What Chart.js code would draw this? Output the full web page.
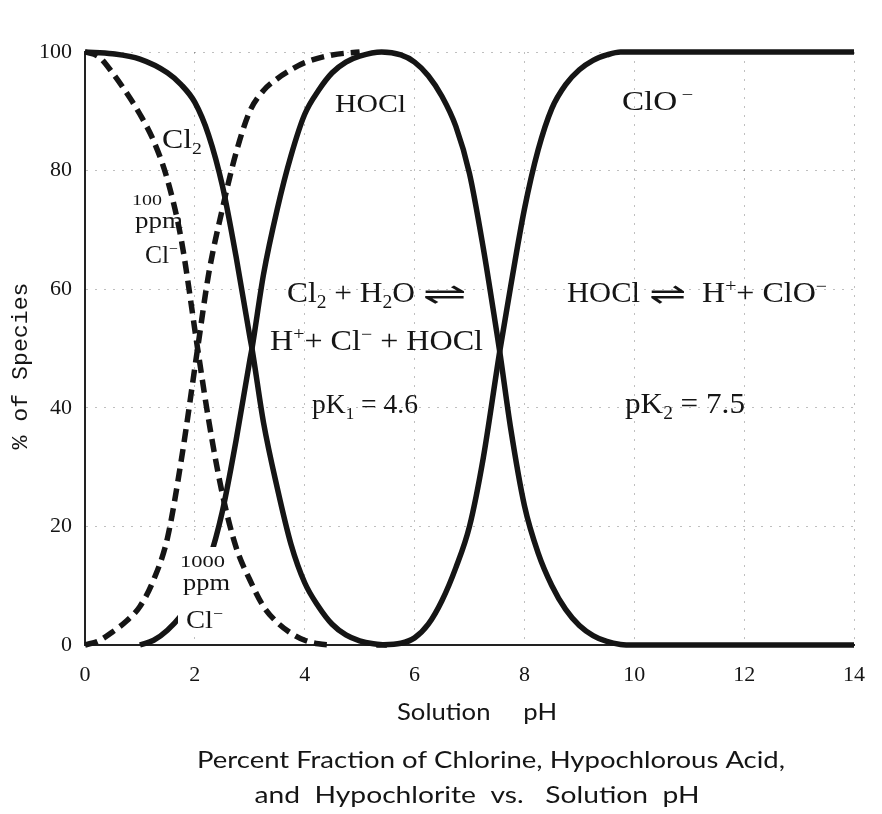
<!DOCTYPE html>
<html>
<head>
<meta charset="utf-8">
<script src="https://cdn.jsdelivr.net/npm/chart.js@4.4.0/dist/chart.umd.min.js"></script>
<style>
  body { margin: 0; background: #fff; }
  #wrap { width: 882px; height: 814px; }
</style>
</head>
<body>
<div id="wrap"><canvas id="speciesChart" width="882" height="814"></canvas></div>
<script>
// axis ticks
const xTicks = [0, 2, 4, 6, 8, 10, 12, 14];
const yTicks = [0, 20, 40, 60, 80, 100];

// solid curves: 1000 ppm Cl-
const cl2PH  = [0, 0.5, 1, 1.5, 1.75, 2, 2.25, 2.5, 2.75, 3, 3.04, 3.25, 3.5, 3.75, 4, 4.25, 4.5, 4.75, 5, 5.25, 5.5];
const cl2Pct = [100, 99.7, 98.8, 96.5, 94.5, 91.5, 86, 77.5, 65.5, 52, 50, 37.5, 26.5, 17, 10.5, 6.5, 3.5, 1.7, 0.7, 0.2, 0];

const hoclPH  = [1, 1.25, 1.5, 1.75, 2, 2.25, 2.5, 2.75, 3, 3.04, 3.25, 3.5, 3.75, 4, 4.25, 4.5, 4.75, 5, 5.4, 5.75, 6, 6.25, 6.5, 6.75, 7, 7.25, 7.5, 7.55, 7.75, 8, 8.25, 8.5, 8.75, 9, 9.25, 9.5, 9.75, 10, 14];
const hoclPct = [0, 0.8, 2.5, 5, 8.5, 14, 22.5, 34.5, 48, 50, 62.5, 73.5, 82.5, 89.5, 93.5, 96.5, 98.3, 99.3, 100, 99.5, 98.3, 96, 92.5, 87.5, 79.5, 67, 52.5, 49.5, 36.5, 23.5, 15.5, 10, 6, 3.3, 1.6, 0.6, 0.1, 0, 0];

const cloPH  = [5.3, 5.75, 6, 6.25, 6.5, 6.75, 7, 7.25, 7.5, 7.55, 7.75, 8, 8.25, 8.5, 8.75, 9, 9.25, 9.5, 9.75, 14];
const cloPct = [0, 0.3, 1.2, 3.5, 7.5, 13, 20, 31.5, 46.5, 49.5, 60.5, 73.5, 83.5, 90.5, 94.5, 97, 98.6, 99.5, 100, 100];

// dashed curves: 100 ppm Cl-
const cl2LowPH  = [0, 0.25, 0.5, 0.75, 1, 1.25, 1.5, 1.75, 2.05, 2.25, 2.5, 2.75, 3, 3.25, 3.5, 3.75, 4, 4.25, 4.5];
const cl2LowPct = [100, 99.2, 96.5, 93.2, 89.5, 85, 78.5, 68.5, 50, 38, 25.5, 16.5, 11, 6.5, 3.8, 2, 0.8, 0.2, 0];

const hoclLowPH  = [0, 0.25, 0.5, 0.75, 1, 1.25, 1.5, 1.75, 2.05, 2.25, 2.5, 2.75, 3, 3.25, 3.5, 3.75, 4, 4.5, 5];
const hoclLowPct = [0, 0.7, 2.2, 4, 6.5, 11, 18, 31, 50, 62.5, 73.5, 83, 90, 93.5, 95.5, 97, 98.2, 99.5, 100];

const ink = '#151515';
const serif = '"Liberation Serif", serif';

function pts(xs, ys) {
  return xs.map((x, i) => ({ x: x, y: ys[i] }));
}

function curve(label, xs, ys, dashed) {
  return {
    label: label,
    data: pts(xs, ys),
    borderColor: ink,
    borderWidth: 5.5,
    borderDash: dashed ? [13, 7] : [],
    pointRadius: 0,
    fill: false,
    cubicInterpolationMode: 'monotone',
    clip: 8
  };
}

// draws text pieces (normal / sub / sup) stretched to a given width
function fitText(ctx, parts, x, base, size, family, width, align) {
  ctx.save();
  ctx.textBaseline = 'alphabetic';
  ctx.textAlign = 'left';
  let nat = 0;
  parts.forEach(p => {
    ctx.font = (p[1] ? size * 0.62 : size) + 'px ' + family;
    nat += ctx.measureText(p[0]).width;
  });
  const sx = width ? width / nat : 1;
  const left = align === 'center' ? x - nat * sx / 2 : x;
  ctx.translate(left, base);
  ctx.scale(sx, 1);
  let cx = 0;
  parts.forEach(p => {
    ctx.font = (p[1] ? size * 0.62 : size) + 'px ' + family;
    const dy = p[1] === 'sub' ? size * 0.22 : p[1] === 'sup' ? -size * 0.36 : 0;
    ctx.fillText(p[0], cx, dy);
    cx += ctx.measureText(p[0]).width;
  });
  ctx.restore();
}

const labelsPlugin = {
  id: 'labels',
  afterDatasetsDraw(chart) {
    const ctx = chart.ctx;
    ctx.save();
    ctx.fillStyle = '#fff';
    ctx.fillRect(178, 547, 53, 86);
    ctx.fillStyle = ink;

    fitText(ctx, [['Cl'], ['2', 'sub']], 162, 148, 28, serif, 40);

    fitText(ctx, [['100']], 132, 205, 15, serif, 30);
    fitText(ctx, [['ppm']], 135, 228, 24, serif, 48);
    fitText(ctx, [['Cl'], ['\u2212', 'sup']], 145, 263, 25, serif, 33);

    fitText(ctx, [['HOCl']], 335, 112, 25, serif, 71);
    fitText(ctx, [['ClO'], ['\u2009\u2212', 'sup']], 622, 110, 27, serif, 71);

    fitText(ctx, [['Cl'], ['2', 'sub'], [' + H'], ['2', 'sub'], ['O']], 287, 302, 29, serif, 128);
    fitText(ctx, [['\u21cc']], 445, 304, 30, '"DejaVu Sans"', 44, 'center');
    fitText(ctx, [['H'], ['+', 'sup'], ['+ Cl'], ['\u2212', 'sup'], [' + HOCl']], 270, 350, 29, serif, 213);
    fitText(ctx, [['pK'], ['1', 'sub'], [' = 4.6']], 312, 413, 27, serif, 106);

    fitText(ctx, [['HOCl']], 567, 302, 29, serif, 73);
    fitText(ctx, [['\u21cc']], 668, 304, 30, '"DejaVu Sans"', 37, 'center');
    fitText(ctx, [['H'], ['+', 'sup'], ['+ ClO'], ['\u2212', 'sup']], 702, 302, 29, serif, 125);
    fitText(ctx, [['pK'], ['2', 'sub'], [' = 7.5']], 625, 413, 29, serif, 120);

    fitText(ctx, [['1000']], 180, 567, 17, serif, 45);
    fitText(ctx, [['ppm']], 183, 590, 24, serif, 47);
    fitText(ctx, [['Cl'], ['\u2212', 'sup']], 186, 628, 26, serif, 37);

    // axis titles and caption
    fitText(ctx, [['Solution     pH']], 477, 720, 24, 'Lato, sans-serif', 160, 'center');
    fitText(ctx, [['Percent Fraction of Chlorine, Hypochlorous Acid,']], 491, 768, 24, 'Lato, sans-serif', 588, 'center');
    fitText(ctx, [['and  Hypochlorite  vs.   Solution  pH']], 477, 803, 24, 'Lato, sans-serif', 445, 'center');

    ctx.translate(20, 366);
    ctx.rotate(-Math.PI / 2);
    fitText(ctx, [['% of Species']], 0, 7, 22, '"Liberation Mono", monospace', 167, 'center');
    ctx.restore();
  }
};

const config = {
  type: 'line',
  data: {
    datasets: [
      curve('Cl2 (1000 ppm Cl-)', cl2PH, cl2Pct, false),
      curve('HOCl (1000 ppm Cl-)', hoclPH, hoclPct, false),
      curve('ClO-', cloPH, cloPct, false),
      curve('Cl2 (100 ppm Cl-)', cl2LowPH, cl2LowPct, true),
      curve('HOCl (100 ppm Cl-)', hoclLowPH, hoclLowPct, true)
    ]
  },
  options: {
    responsive: false,
    animation: false,
    layout: { padding: { left: 0, top: 52, right: 15, bottom: 70 } },
    plugins: {
      legend: { display: false },
      tooltip: { enabled: false }
    },
    scales: {
      x: {
        type: 'linear',
        min: 0,
        max: 14,
        afterBuildTicks: s => { s.ticks = xTicks.map(v => ({ value: v })); },
        afterFit: s => { s.height = 99; },
        grid: {
          color: 'rgba(0,0,0,0.25)',
          lineWidth: 1,
          drawTicks: false
        },
        border: { display: true, color: '#222', width: 2, dash: [2, 7] },
        ticks: {
          padding: 17,
          color: ink,
          font: { family: serif, size: 22 }
        }
      },
      y: {
        min: 0,
        max: 100,
        afterBuildTicks: s => { s.ticks = yTicks.map(v => ({ value: v })); },
        afterFit: s => { s.width = 85; },
        grid: {
          color: 'rgba(0,0,0,0.25)',
          lineWidth: 1,
          drawTicks: false
        },
        border: { display: true, color: '#222', width: 2, dash: [2, 7] },
        ticks: {
          padding: 13,
          color: ink,
          font: { family: serif, size: 22 }
        }
      }
    }
  },
  plugins: [labelsPlugin]
};

const speciesChart = new Chart(document.getElementById('speciesChart'), config);
</script>
</body>
</html>
